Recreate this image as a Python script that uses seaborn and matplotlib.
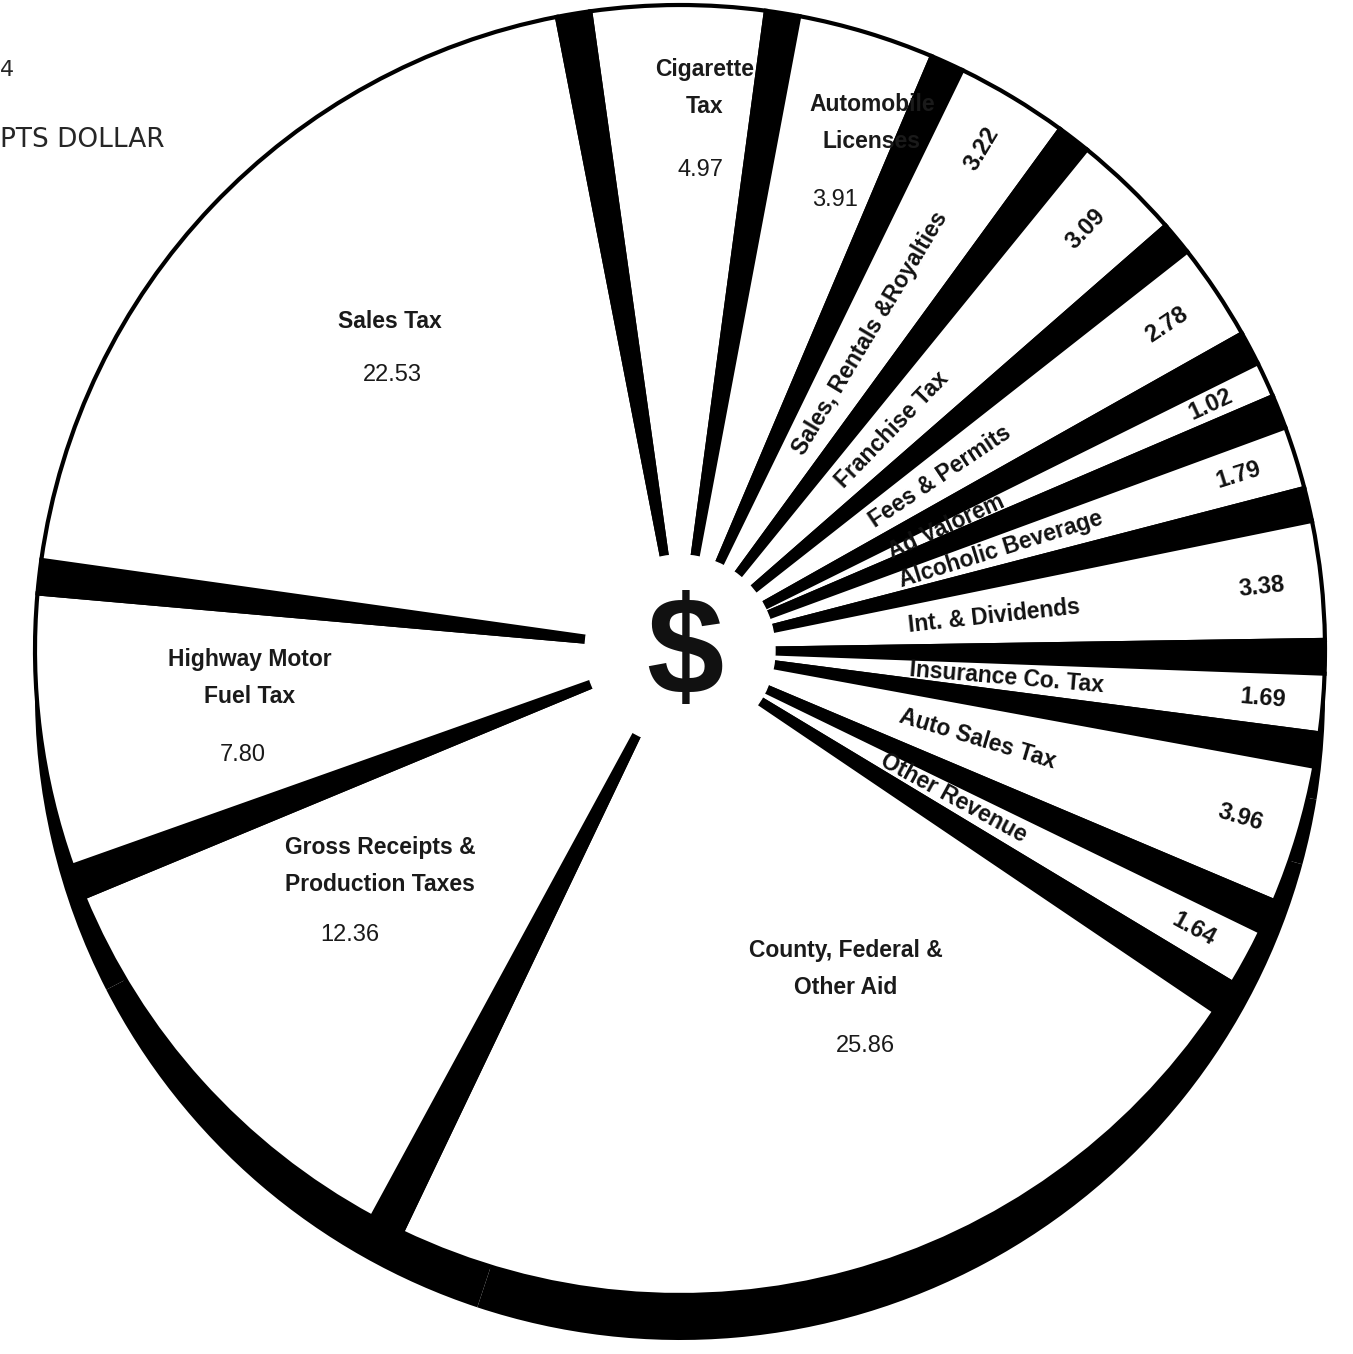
import numpy as np
import pandas as pd
import matplotlib
matplotlib.use("Agg")
import matplotlib.pyplot as plt
import seaborn as sns

# ---------------- data ----------------
categories = [
    "Cigarette Tax", "Automobile Licenses", "Sales, Rentals &Royalties",
    "Franchise Tax", "Fees & Permits", "Ad Valorem", "Alcoholic Beverage",
    "Int. & Dividends", "Insurance Co. Tax", "Auto Sales Tax", "Other Revenue",
    "County, Federal & Other Aid", "Gross Receipts & Production Taxes",
    "Highway Motor Fuel Tax", "Sales Tax",
]
values = [4.97, 3.91, 3.22, 3.09, 2.78, 1.02, 1.79, 3.38, 1.69, 3.96, 1.64,
          25.86, 12.36, 7.80, 22.53]
display_names = [
    "Cigarette\nTax", "Automobile\nLicenses", "Sales, Rentals &Royalties",
    "Franchise Tax", "Fees & Permits", "Ad Valorem", "Alcoholic Beverage",
    "Int. & Dividends", "Insurance Co. Tax", "Auto Sales Tax", "Other Revenue",
    "County, Federal &\nOther Aid", "Gross Receipts &\nProduction Taxes",
    "Highway Motor\nFuel Tax", "Sales Tax",
]
value_labels = [f"{v:.2f}" for v in values]
radial_labelled = ["Sales, Rentals &Royalties", "Franchise Tax", "Fees & Permits",
                   "Ad Valorem", "Alcoholic Beverage", "Int. & Dividends",
                   "Insurance Co. Tax", "Auto Sales Tax", "Other Revenue"]
# visible (cropped) remains of the heading in the source scan
heading_lines = ["4", "PTS DOLLAR"]

df = pd.DataFrame({"category": categories, "value": values,
                   "name": display_names, "label": value_labels})

# ---------------- layout / style ----------------
W, H = 1353, 1354
CX, CY = 680, H - 650
R = 645
GAP_DEG = 3.0
SHADOW_DY = 45
HOLE_R = 95
START = 98

# horizontal label anchors for the big slices (image pixel coords: name, value)
big_label_pos = {
    "Cigarette Tax": ((705, 88), (700, 170)),
    "Automobile Licenses": ((872, 123), (835, 200)),
    "Sales Tax": ((390, 322), (392, 375)),
    "Highway Motor Fuel Tax": ((250, 678), (243, 755)),
    "Gross Receipts & Production Taxes": ((380, 866), (350, 935)),
    "County, Federal & Other Aid": ((846, 969), (865, 1046)),
}

sns.set_theme(style="white")
plt.rcParams["font.family"] = ["Liberation Sans", "DejaVu Sans"]

fig = plt.figure(figsize=(W / 100, H / 100), dpi=100)
ax = fig.add_axes([0, 0, 1, 1])

n = len(df)
gap_val = GAP_DEG * df["value"].sum() / (360 - n * GAP_DEG)
pie_vals, pie_cols = [], []
for v in df["value"]:
    pie_vals += [v, gap_val]
    pie_cols += ["white", "black"]

# black "depth" underlay
ax.pie(df["value"], center=(CX, CY - SHADOW_DY), radius=R, startangle=START,
       counterclock=False, colors=["black"] * n,
       wedgeprops=dict(linewidth=0))
# white slices separated by tapered black gaps
wedges, _ = ax.pie(pie_vals, center=(CX, CY), radius=R, startangle=START,
                   counterclock=False, colors=pie_cols,
                   wedgeprops=dict(edgecolor="black", linewidth=3))

ax.add_patch(plt.Circle((CX, CY), HOLE_R, color="white", zorder=5))
ax.text(CX + 5, CY - 8, "$", ha="center", va="center", fontsize=100,
        fontweight="bold", zorder=6, color="#111111")


def img(p):
    return p[0], H - p[1]


for i, row in df.iterrows():
    w = wedges[2 * i]
    mid = (w.theta1 + w.theta2) / 2
    if row["category"] in radial_labelled:
        a = np.deg2rad(mid)
        ax.text(CX + 230 * np.cos(a), CY + 230 * np.sin(a), row["name"],
                rotation=mid, rotation_mode="anchor", ha="left", va="center",
                fontsize=16.5, fontweight="bold", zorder=7, color="#111111")
        ax.text(CX + 585 * np.cos(a), CY + 585 * np.sin(a), row["label"],
                rotation=mid, rotation_mode="anchor", ha="center", va="center",
                fontsize=17, fontweight="bold", zorder=7, color="#111111")
    else:
        npos, vpos = big_label_pos[row["category"]]
        ax.text(*img(npos), row["name"], ha="center", va="center",
                fontsize=16.5, fontweight="bold", linespacing=1.75, zorder=7,
                color="#1a1a1a")
        ax.text(*img(vpos), row["label"], ha="center", va="center",
                fontsize=17, zorder=7, color="#1a1a1a")

# cropped heading remains at the upper left
ax.text(0, H - 70, heading_lines[0], ha="left", va="center", fontsize=16,
        family="DejaVu Sans")
ax.text(0, H - 140, heading_lines[1], ha="left", va="center",
        fontsize=19, family="DejaVu Sans")

ax.set_xlim(0, W)
ax.set_ylim(0, H)
ax.set_aspect("equal")
ax.axis("off")
fig.savefig("out.png", dpi=100, facecolor="white")
